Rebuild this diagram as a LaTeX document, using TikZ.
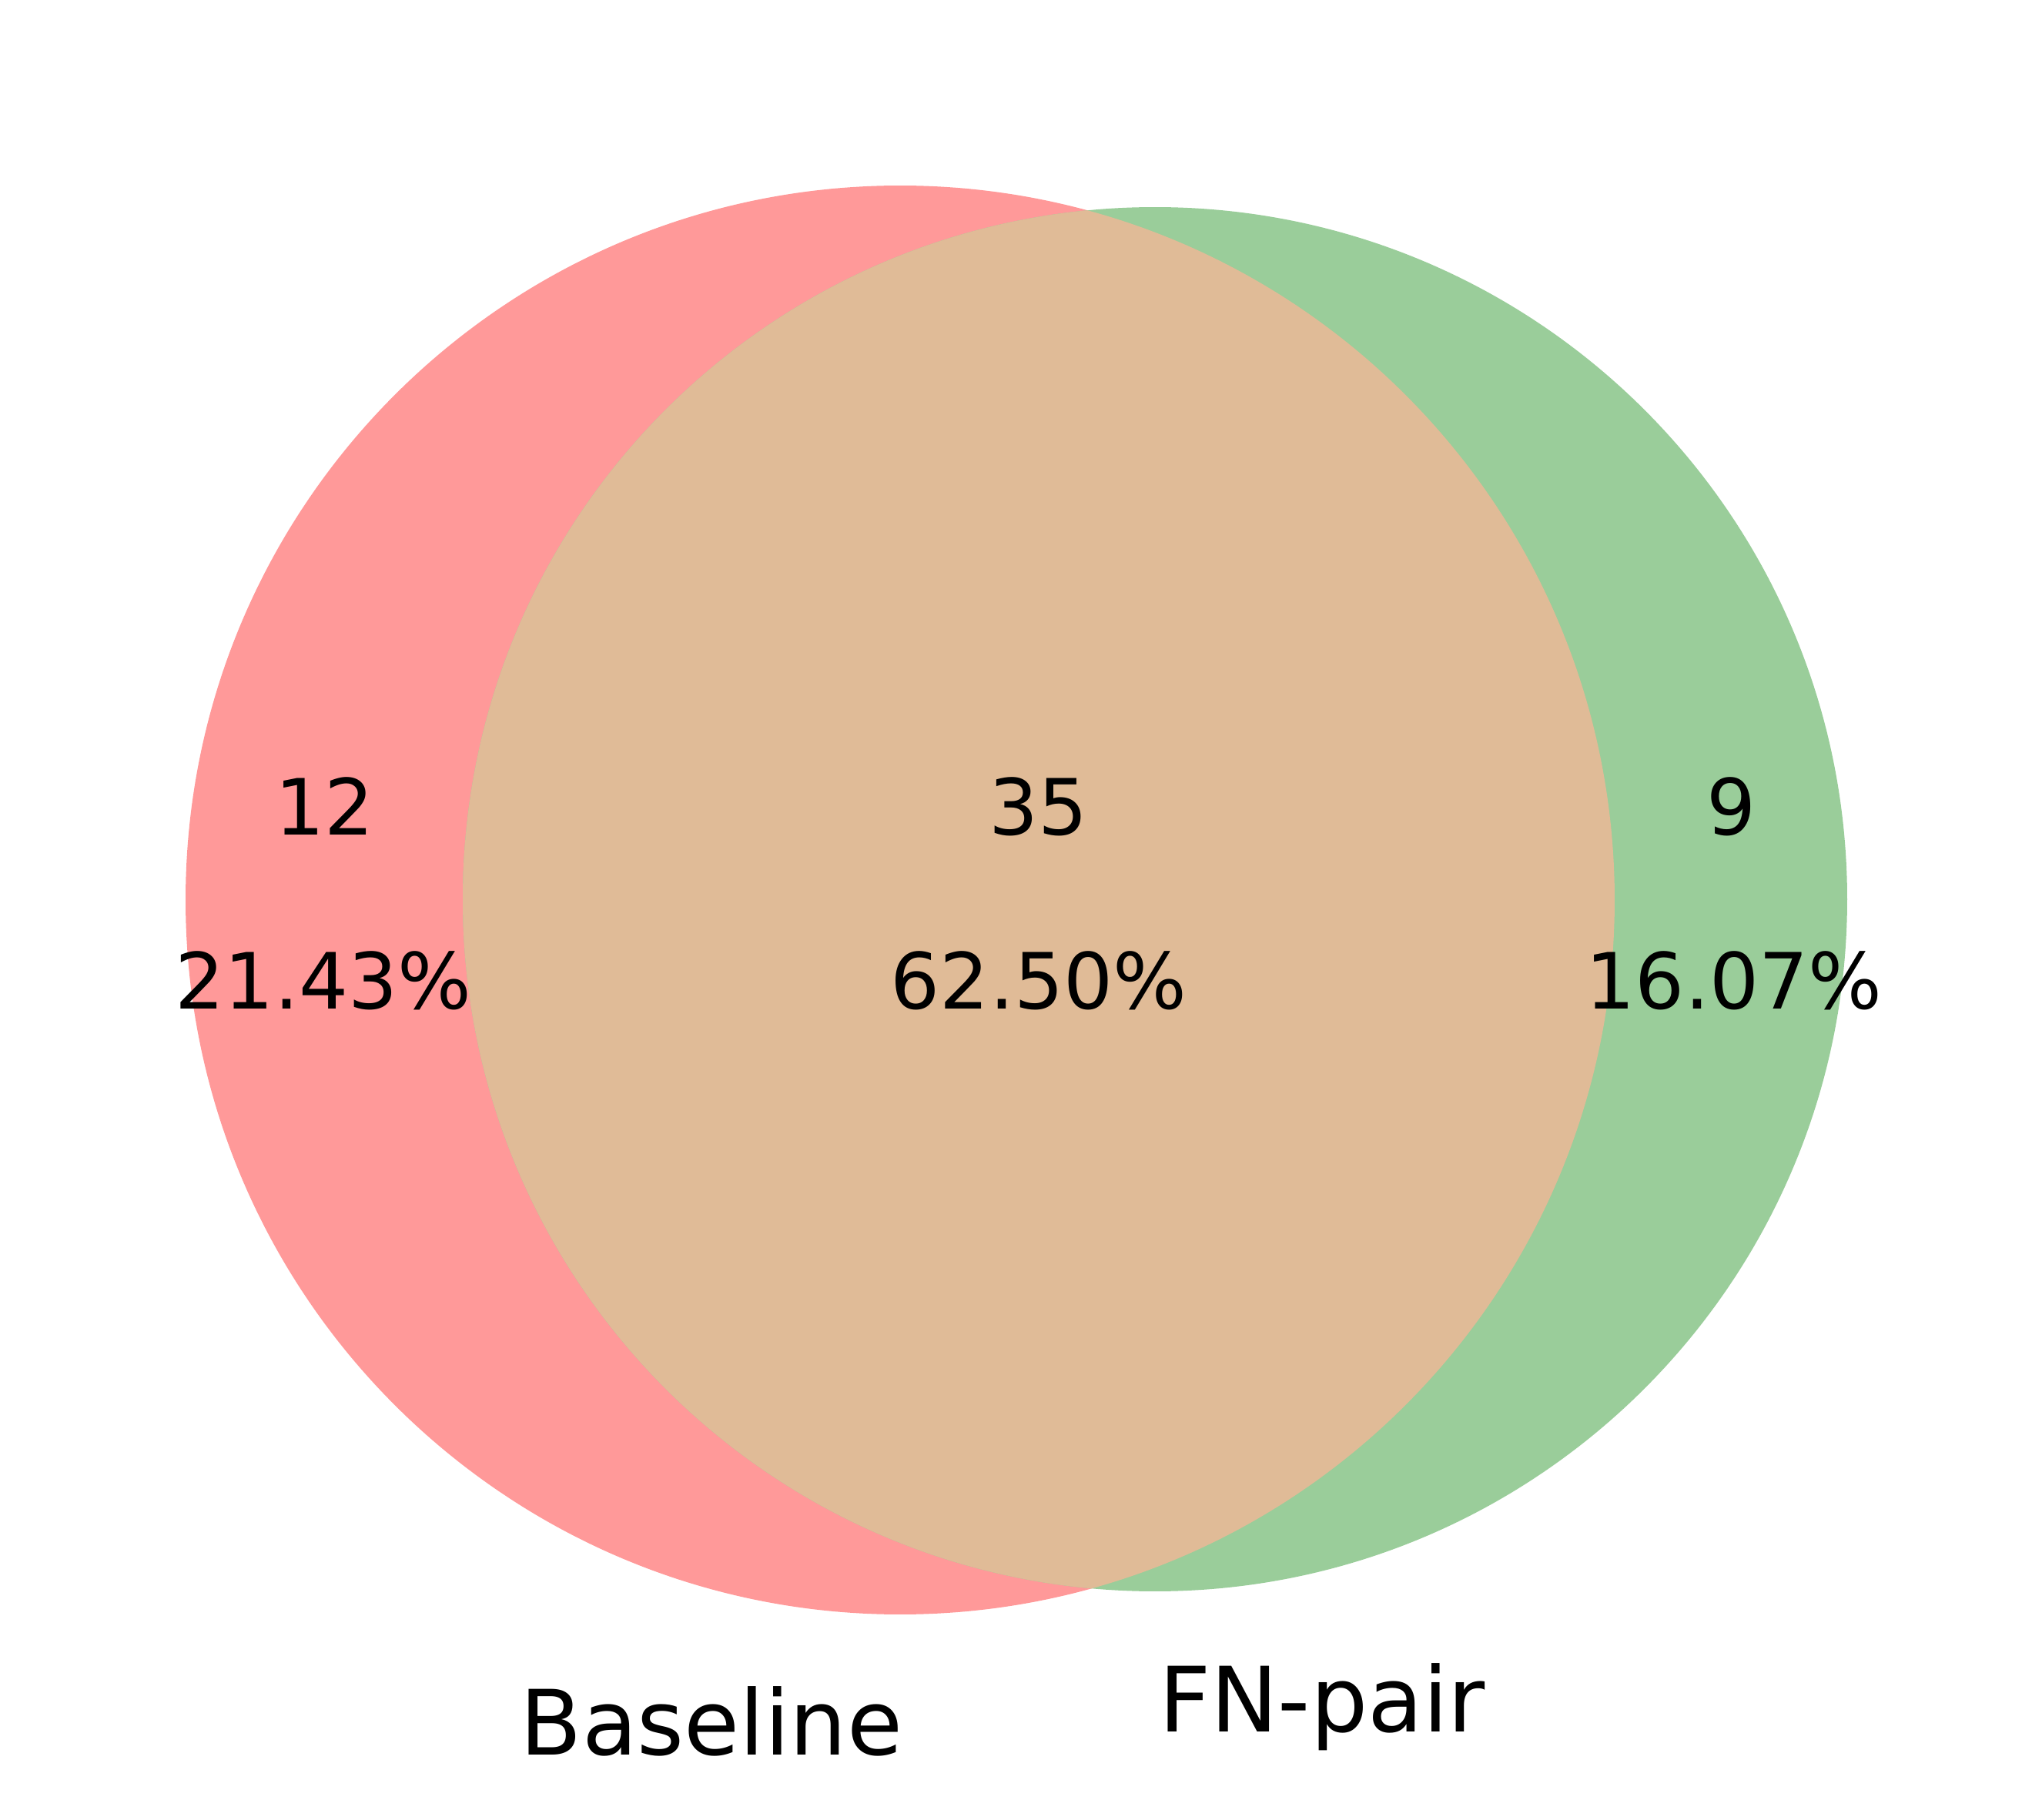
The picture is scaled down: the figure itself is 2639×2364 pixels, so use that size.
\documentclass[tikz,border=0pt]{standalone}
\usepackage{fontspec}
\setmainfont{DejaVu Sans}
\definecolor{vred}{RGB}{255,153,153}
\definecolor{vgreen}{RGB}{154,205,154}
\definecolor{vmix}{RGB}{224,187,151}
\begin{document}
\begin{tikzpicture}[x=0.24pt,y=-0.24pt,
  num/.style={anchor=base,inner sep=0pt,font=\fontsize{24.2pt}{29pt}\selectfont},
  setlabel/.style={anchor=base,inner sep=0pt,font=\fontsize{28.1pt}{34pt}\selectfont}]
\fill[white] (0,0) rectangle (2639,2364);
\useasboundingbox (0,0) rectangle (2639,2364);
\coordinate (cA) at (1169,1169);
\coordinate (cB) at (1500,1168);
\fill[vred] (cA) circle[radius=222.72pt];
\fill[vgreen] (cB) circle[radius=215.76pt];
\begin{scope}
\clip (cA) circle[radius=222.72pt];
\fill[vmix] (cB) circle[radius=215.76pt];
\end{scope}
\node[num] (n10) at (422,1085) {12};
\node[num] (p10) at (420,1310) {21.43\%};
\node[num] (n11) at (1349,1085) {35};
\node[num] (p11) at (1349,1310) {62.50\%};
\node[num] (n01) at (2249,1085) {9};
\node[num] (p01) at (2252,1310) {16.07\%};
\node[setlabel] (lA) at (924,2279) {Baseline};
\node[setlabel] (lB) at (1717,2249) {FN-pair};
\end{tikzpicture}
\end{document}
